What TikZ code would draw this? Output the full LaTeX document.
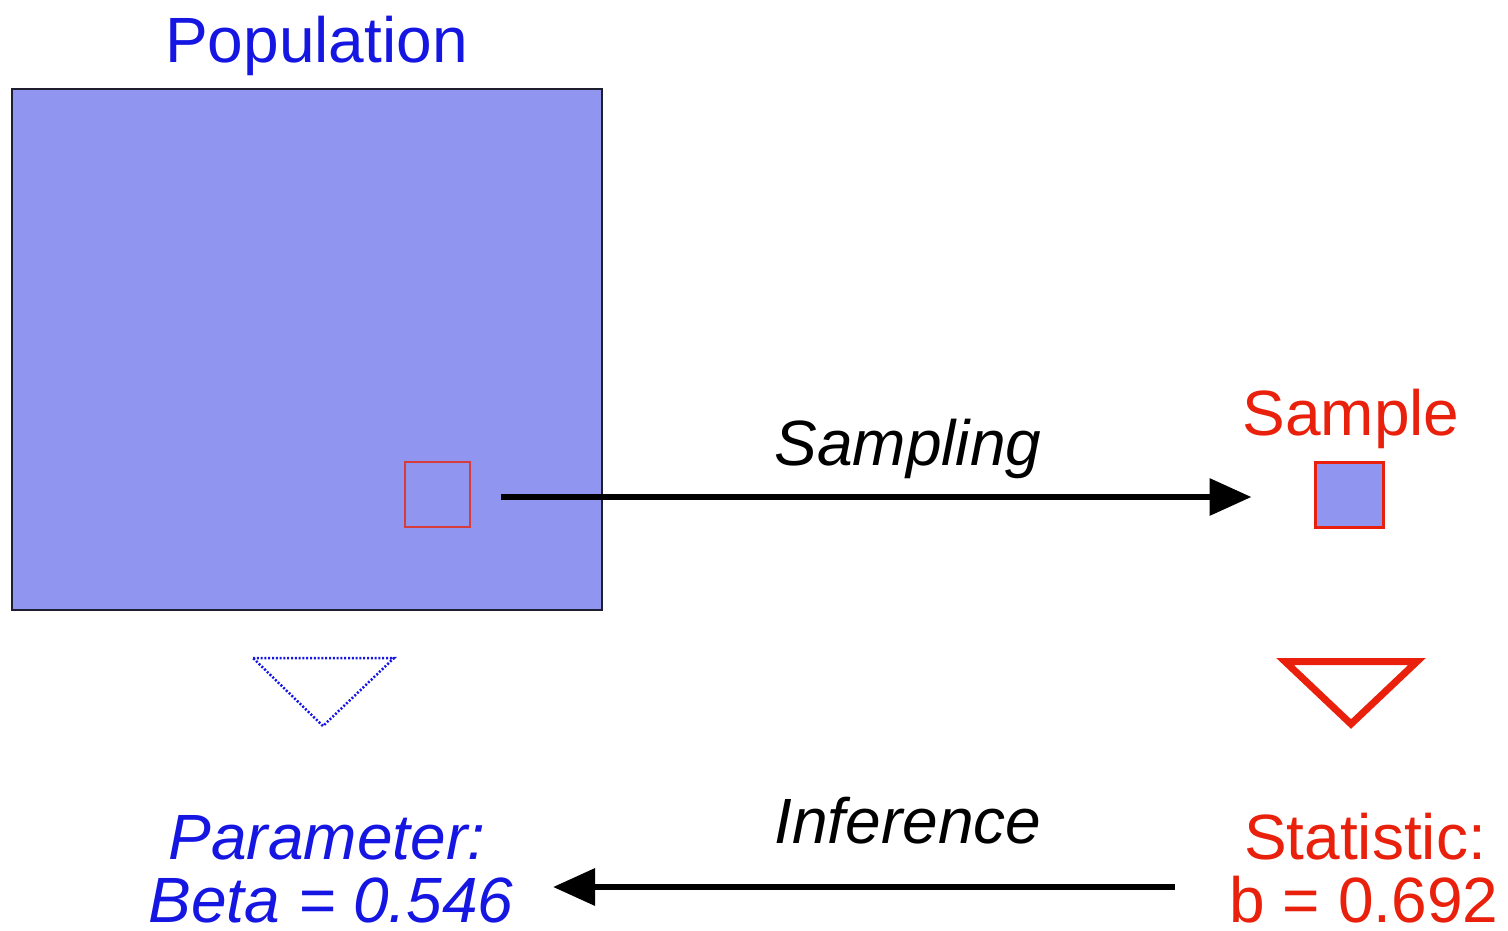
\documentclass[tikz,border=0pt]{standalone}
\usepackage{fontspec}
\setmainfont{Liberation Sans}
\usetikzlibrary{arrows.meta}
\definecolor{popblue}{RGB}{22,22,226}
\definecolor{sampred}{RGB}{232,32,12}
\definecolor{boxfill}{RGB}{144,150,240}
\definecolor{boxedge}{RGB}{30,30,48}
\definecolor{selred}{RGB}{214,60,60}
\tikzset{
  lbl/.style={inner sep=0pt, anchor=base, font=\fontsize{64}{64}\selectfont},
  bluelbl/.style={lbl, text=popblue},
  redlbl/.style={lbl, text=sampred},
  arrowlbl/.style={lbl, text=black, font=\fontsize{64}{64}\selectfont\itshape},
  flow/.style={line width=6.5pt, -{Triangle[length=42pt,width=36pt]}},
  unitbox/.style={fill=boxfill, inner sep=0pt, minimum size=65pt}
}
\begin{document}
\begin{tikzpicture}[x=1pt,y=-1pt]
  \useasboundingbox (0,0) rectangle (1508,930);

  % population frame and the selected unit inside it
  \node[draw=boxedge, line width=2.2pt, fill=boxfill, inner sep=0pt,
        minimum width=590pt, minimum height=521pt] (pop) at (307,349.5) {};
  \node[unitbox, draw=selred, line width=2pt] (sel) at (437.5,494.5) {};
  \node[bluelbl] (poplbl) at (316.5,62) {Population};

  % the drawn sample
  \node[unitbox, draw=sampred, line width=3pt, minimum width=68pt] (samp) at (1349,494.5) {};
  \node[redlbl] (samplbl) at (1351,435) {Sample};

  % sampling step
  \draw[flow] ([xshift=30pt,yshift=-2.5pt]sel.east) -- ([xshift=-62pt,yshift=-2.5pt]samp.west);
  \node[arrowlbl] (samplinglbl) at (908,465) {Sampling};

  % downward markers
  \draw[popblue, line width=2.5pt, dash pattern=on 2pt off 1.8pt]
    (253,658) -- (394,658) -- (323,726) -- cycle;
  \draw[sampred, line width=7pt, miter limit=10]
    (1285,661.5) -- (1417,661.5) -- (1351,724) -- cycle;

  % parameter and statistic
  \node[bluelbl, font=\fontsize{64}{64}\selectfont\itshape] (par1) at (327,859) {Parameter:};
  \node[bluelbl, font=\fontsize{64}{64}\selectfont\itshape] (par2) at (331,922) {Beta = 0.546};
  \node[redlbl] (stat1) at (1365,859) {Statistic:};
  \node[redlbl] (stat2) at (1364,922) {b = 0.692};

  % inference step
  \coordinate (infstart) at (1175,887);
  \coordinate (infend) at (553,887);
  \draw[flow] (infstart) -- (infend);
  \node[arrowlbl] (inferencelbl) at (908,843) {Inference};
\end{tikzpicture}
\end{document}
